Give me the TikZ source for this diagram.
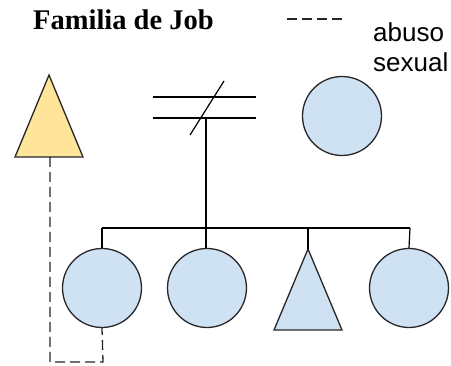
\documentclass[tikz,border=0pt]{standalone}
\usepackage{fontspec}
\setmainfont{Liberation Serif}
\newfontfamily\labelfont{Liberation Sans}
\definecolor{pblue}{HTML}{CFE2F3}
\definecolor{pyellow}{HTML}{FFE599}
\begin{document}
\begin{tikzpicture}[x=1pt,y=-1pt,
  person/.style={circle,draw=black!85,line width=1.3pt,fill=pblue,minimum size=79pt,inner sep=0pt},
  tri/.style={draw=black!85,line width=1.3pt,line join=miter},
  link/.style={draw=black,line width=1.2pt},
  abuse/.style={draw=black!85,line width=1.3pt,dash pattern=on 10pt off 5pt}]
\useasboundingbox (0,0) rectangle (451,366);
% title and legend
\node[anchor=base west,inner sep=0pt,font=\bfseries\fontsize{28.5}{32}\selectfont] (title) at (33,29.5) {Familia de Job};
\coordinate (lg1) at (287,19);
\coordinate (lg2) at (346,19);
\draw[abuse] (lg1) -- (lg2);
\node[anchor=base west,inner sep=0pt,font=\labelfont\fontsize{26}{30}\selectfont] (lab1) at (373,42) {abuso};
\node[anchor=base west,inner sep=0pt,font=\labelfont\fontsize{26}{30}\selectfont] (lab2) at (373,72) {sexual};
% Job (yellow triangle)
\coordinate (jobA) at (49,75);
\coordinate (jobL) at (15,157);
\coordinate (jobR) at (83,157);
\coordinate (jobB) at (50,157);
\draw[tri,fill=pyellow] (jobA) -- (jobR) -- (jobL) -- cycle;
% mother
\node[person] (mom) at (342,116) {};
% divorced couple lines
\coordinate (m1a) at (153,97);
\coordinate (m1b) at (256,97);
\coordinate (m2a) at (153,118);
\coordinate (m2b) at (256,118);
\coordinate (s1) at (190,135);
\coordinate (s2) at (224,81);
\coordinate (mc) at (206,118);
\draw[link] (m1a) -- (m1b);
\draw[link] (m2a) -- (m2b);
\draw[link] (s1) -- (s2);
% children
\node[person] (c1) at (102,288) {};
\node[person] (c2) at (207,288) {};
\coordinate (t2A) at (308,249);
\coordinate (t2L) at (274,330);
\coordinate (t2R) at (342,330);
\draw[tri,fill=pblue] (t2A) -- (t2R) -- (t2L) -- cycle;
\node[person] (c4) at (409,288) {};
% sibship line
\coordinate (sibL) at (102,228);
\coordinate (sibR) at (410,228);
\draw[link] (mc) -- (mc |- c2.north);
\draw[link] (sibL) -- (sibR);
\draw[link] (sibL) -- (c1.north);
\draw[link] (t2A |- sibL) -- (t2A);
\draw[link] (sibR) -- (c4.north);
% abuse connector
\coordinate (ab1) at (50,362);
\coordinate (ab2) at (103,362);
\draw[abuse] (jobB) -- (ab1) -- (ab2) -- (c1.south);
\end{tikzpicture}
\end{document}
